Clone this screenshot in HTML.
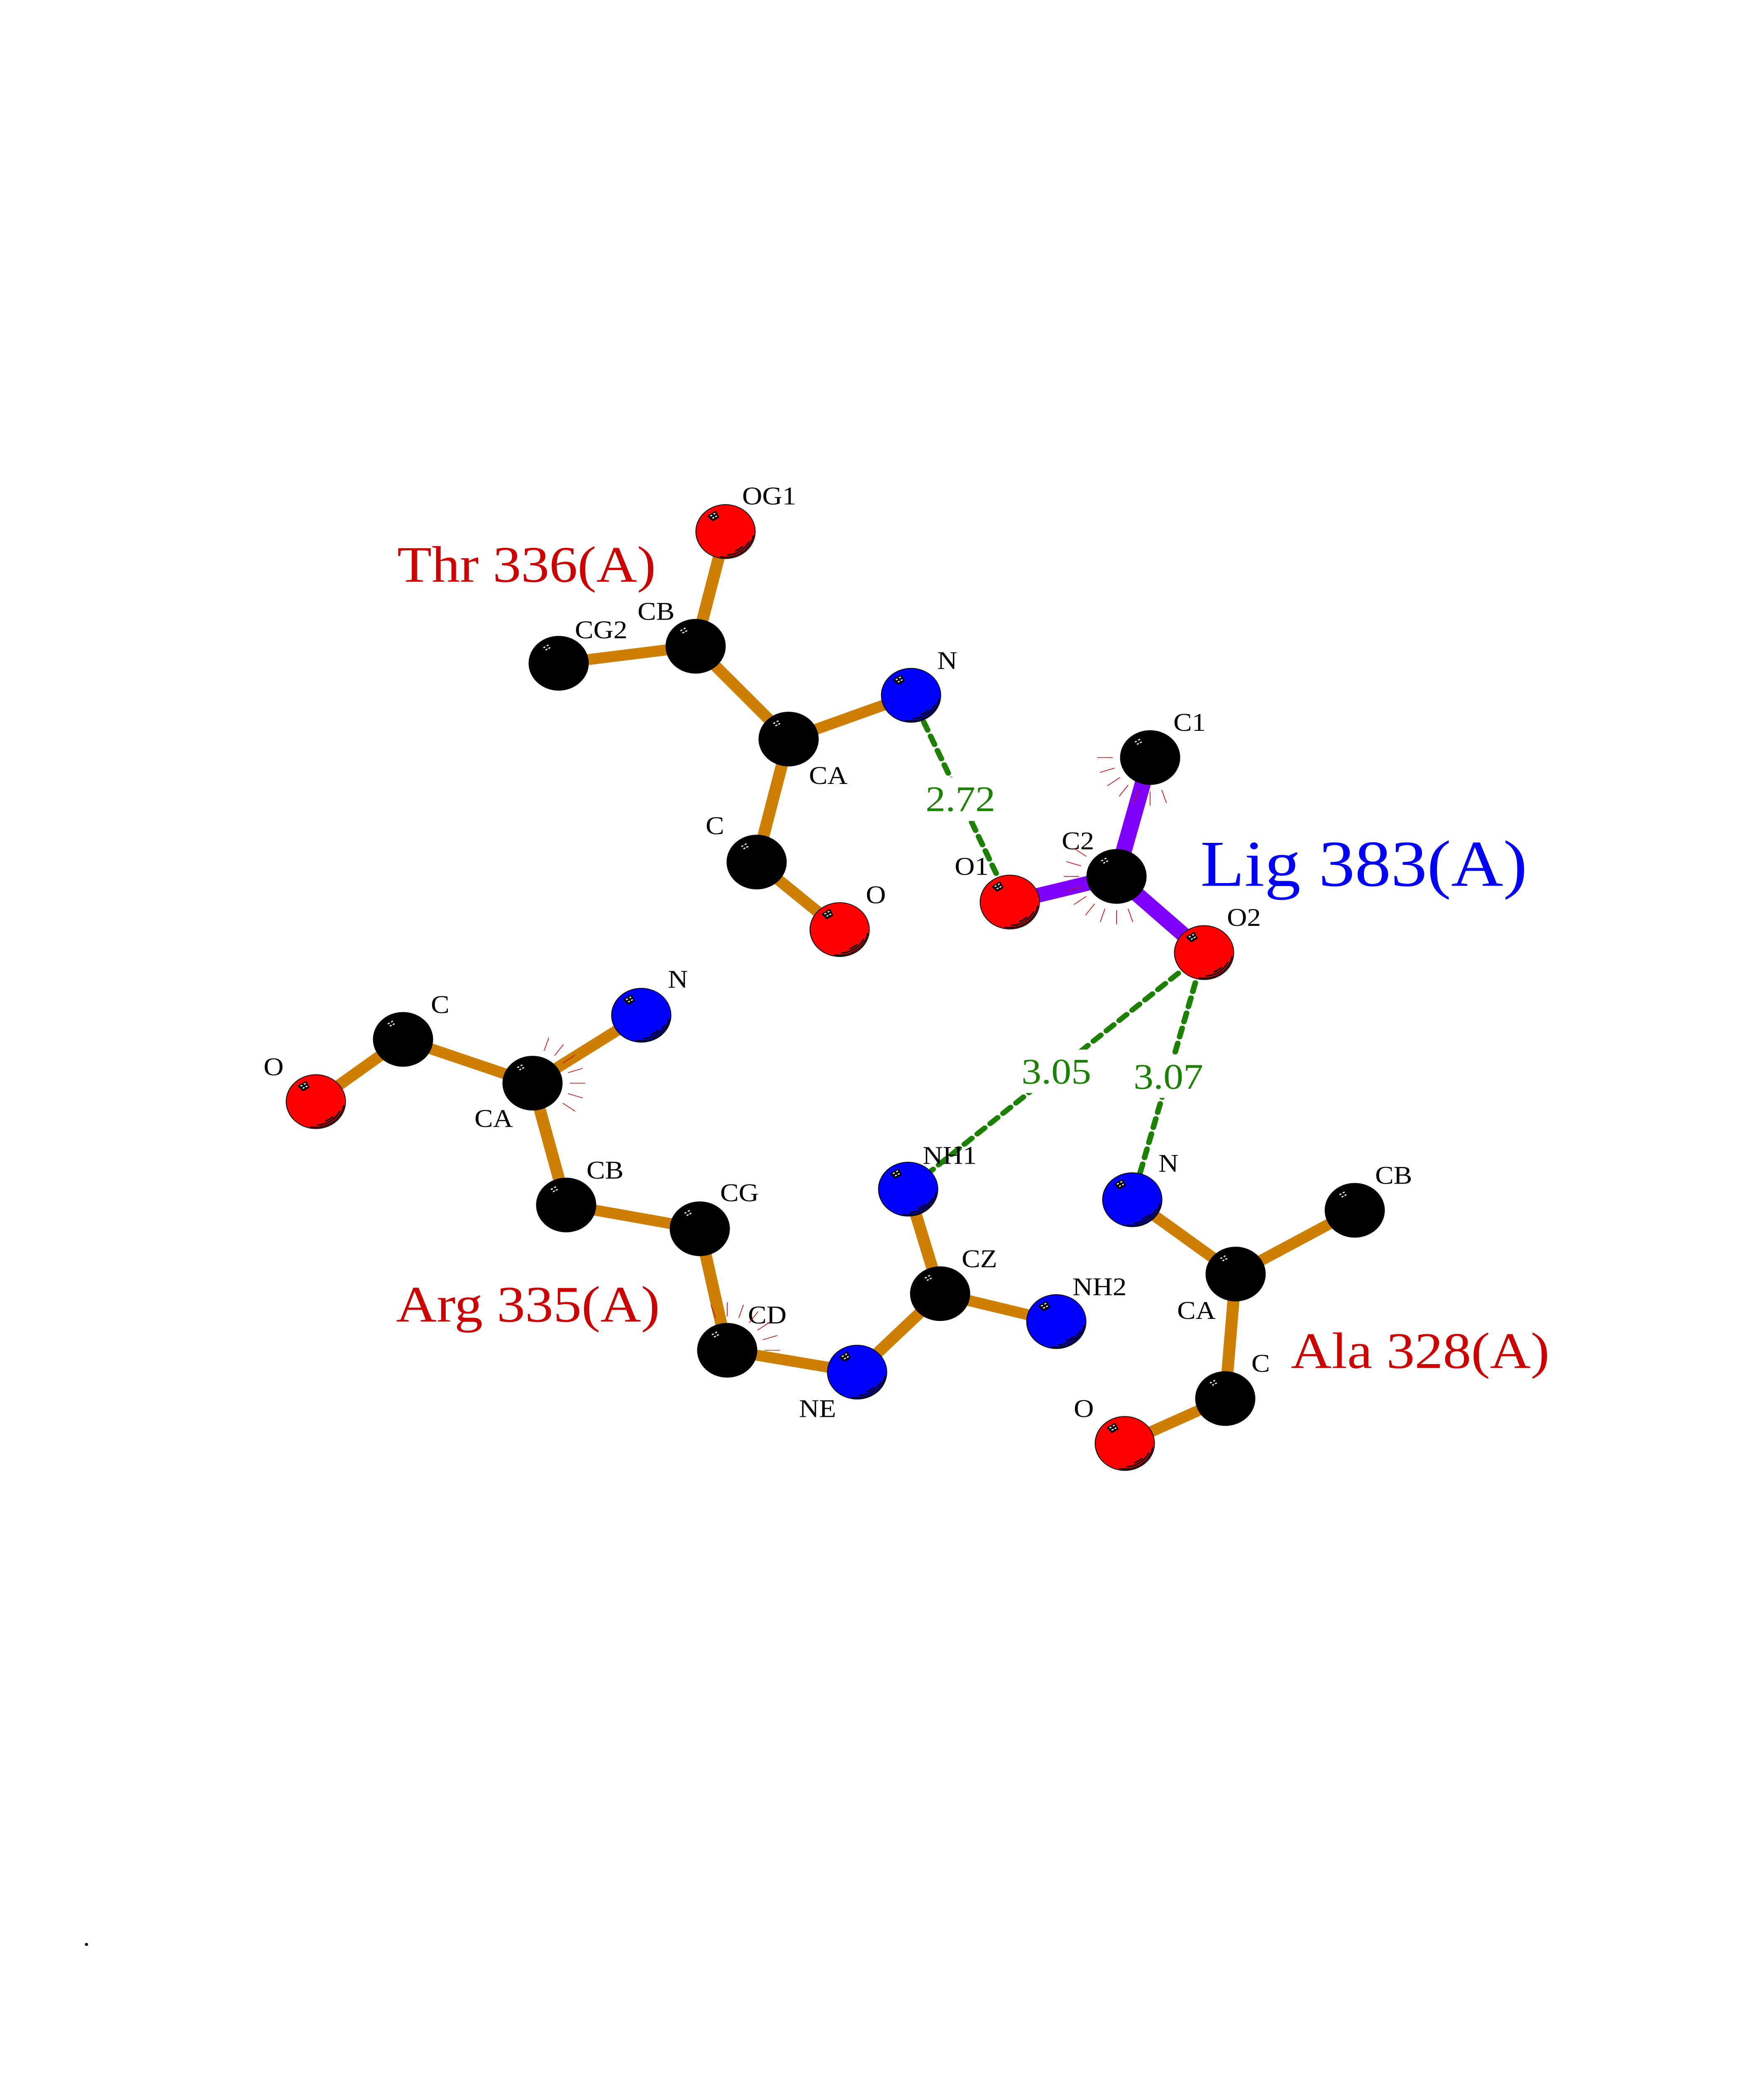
<!DOCTYPE html>
<html>
<head>
<meta charset="utf-8">
<style>
html,body{margin:0;padding:0;background:#fff;width:100%;height:100%;overflow:hidden}
svg{display:block;position:fixed;left:0;top:0;width:100vw;height:100vh;overflow:hidden}
text{font-family:"Liberation Serif",serif}
.a{font-size:67px;fill:#000}
.r{font-size:136px;fill:#cc0000}
.d{font-size:96px;fill:#1c8000}
</style>
</head>
<body>
<svg xmlns="http://www.w3.org/2000/svg" viewBox="0 0 4250 5500" preserveAspectRatio="none">
<defs>
<g id="hl">
  <path d="M-42-41L-24-53L-17-38L-31-29Z" fill="#000" stroke="#000" stroke-width="3" stroke-linejoin="round"/>
</g>
<g id="dots" fill="#fff">
  <rect x="-37" y="-43.5" width="5" height="3" transform="rotate(-30 -35 -42)"/>
  <rect x="-29" y="-48.5" width="5" height="3" transform="rotate(-30 -27 -47)"/>
  <rect x="-25" y="-41.5" width="5" height="3" transform="rotate(-30 -23 -40)"/>
  <rect x="-32" y="-37.5" width="5" height="3" transform="rotate(-30 -30 -36)"/>
</g>
<g id="shine" fill="none" stroke="#000" stroke-linecap="round" stroke-width="3.5">
  <path d="M-12 67A68 68 0 0 0 67 11"/>
  <path d="M5 62A63 63 0 0 0 57 26"/>
  <path d="M24 51A56 56 0 0 0 41 40"/>
</g>
<g id="ox"><circle r="71.5" fill="#ff0000" stroke="#000" stroke-width="2"/><use href="#shine"/><use href="#hl"/><use href="#dots"/></g>
<g id="ni"><circle r="71.5" fill="#0000ff" stroke="#000" stroke-width="2"/><use href="#shine"/><use href="#hl"/><use href="#dots"/></g>
<g id="ca"><circle r="72.5" fill="#000"/><use href="#dots"/></g>
<g id="t"><line x1="90" y1="0" x2="127" y2="0" stroke="#cc0000" stroke-width="1.7"/></g>
</defs>

<!-- bonds -->
<g stroke="#cc7f00" stroke-width="29" fill="none">
  <path d="M1748 1409L1676 1713M1346 1758L1676 1713M1676 1713L1900 1959M1900 1959L2195 1843M1900 1959L1823 2285L2023 2464"/>
  <path d="M761 2920L971 2755L1283 2871L1545 2691M1283 2871L1364 3194L1686 3257L1752 3579L2065 3637L2265 3429L2188 3152M2265 3429L2545 3503"/>
  <path d="M2728 3180L2977 3377L3264 3208M2977 3377L2952 3707L2710 3826"/>
</g>
<g stroke="#8000ff" stroke-width="39" fill="none">
  <path d="M2771 2008L2690 2323L2433 2391M2690 2323L2901 2525"/>
</g>

<!-- hydrogen bonds -->
<g stroke="#1c8000" stroke-width="13.5" fill="none" stroke-linecap="round" stroke-dasharray="24 17.4">
  <line x1="2433" y1="2391" x2="2195" y2="1843"/>
  <line x1="2901" y1="2525" x2="2188" y2="3152"/>
  <line x1="2901" y1="2525" x2="2728" y2="3180"/>
</g>
<g fill="#fff">
  <rect x="2222" y="2060" width="180" height="116"/>
  <rect x="2452" y="2782" width="180" height="115"/>
  <rect x="2722" y="2795" width="180" height="115"/>
</g>

<!-- atoms -->
<use href="#ox" x="1748" y="1409"/>
<use href="#ca" x="1676" y="1713"/>
<use href="#ca" x="1346" y="1758"/>
<use href="#ca" x="1900" y="1959"/>
<use href="#ni" x="2195" y="1843"/>
<use href="#ca" x="1823" y="2285"/>
<use href="#ox" x="2023" y="2464"/>
<use href="#ca" x="2771" y="2008"/>
<use href="#ca" x="2690" y="2323"/>
<use href="#ox" x="2433" y="2391"/>
<use href="#ox" x="2901" y="2525"/>
<use href="#ni" x="1545" y="2691"/>
<use href="#ca" x="1283" y="2871"/>
<use href="#ca" x="971" y="2755"/>
<use href="#ox" x="761" y="2920"/>
<use href="#ca" x="1364" y="3194"/>
<use href="#ca" x="1686" y="3257"/>
<use href="#ca" x="1752" y="3579"/>
<use href="#ni" x="2065" y="3637"/>
<use href="#ca" x="2265" y="3429"/>
<use href="#ni" x="2188" y="3152"/>
<use href="#ni" x="2545" y="3503"/>
<use href="#ni" x="2728" y="3180"/>
<use href="#ca" x="2977" y="3377"/>
<use href="#ca" x="3264" y="3208"/>
<use href="#ca" x="2952" y="3707"/>
<use href="#ox" x="2710" y="3826"/>

<!-- atom labels -->
<g class="labels">
<text class="a" x="1788" y="1337">OG1</text>
<text class="a" x="1385" y="1692">CG2</text>
<text class="a" x="1536" y="1643">CB</text>
<text class="a" x="2258" y="1773">N</text>
<text class="a" x="1949" y="2078">CA</text>
<text class="a" x="1700" y="2211">C</text>
<text class="a" x="2086" y="2394">O</text>
<text class="a" x="2827" y="1937">C1</text>
<text class="a" x="2558" y="2251">C2</text>
<text class="a" x="2300" y="2319">O1</text>
<text class="a" x="2956" y="2454">O2</text>
<text class="a" x="1609" y="2618">N</text>
<text class="a" x="1038" y="2685">C</text>
<text class="a" x="635" y="2850">O</text>
<text class="a" x="1143" y="2987">CA</text>
<text class="a" x="1413" y="3124">CB</text>
<text class="a" x="1735" y="3184">CG</text>
<text class="a" x="1802" y="3508">CD</text>
<text class="a" x="1925" y="3756">NE</text>
<text class="a" x="2317" y="3359">CZ</text>
<text class="a" x="2223" y="3085">NH1</text>
<text class="a" x="2584" y="3433">NH2</text>
<text class="a" x="2791" y="3106">N</text>
<text class="a" x="3313" y="3138">CB</text>
<text class="a" x="2836" y="3496">CA</text>
<text class="a" x="3015" y="3636">C</text>
<text class="a" x="2587" y="3756">O</text>
</g>

<!-- residue labels -->
<text class="r" x="957" y="1542">Thr 336(A)</text>
<text class="r" x="954" y="3503">Arg 335(A)</text>
<text class="r" x="3110" y="3626">Ala 328(A)</text>
<text x="2892" y="2348" style="font-size:174px;fill:#0000ff">Lig 383(A)</text>

<!-- distances -->
<text class="d" x="2230" y="2150">2.72</text>
<text class="d" x="2461" y="2872">3.05</text>
<text class="d" x="2731" y="2886">3.07</text>

<text x="200" y="5157" style="font-size:67px;fill:#000">.</text>

<!-- hydrophobic ticks -->
<g transform="translate(1283 2871)">
  <use href="#t" transform="rotate(-72)"/><use href="#t" transform="rotate(-54)"/><use href="#t" transform="rotate(-36)"/><use href="#t" transform="rotate(-18)"/><use href="#t"/><use href="#t" transform="rotate(18)"/><use href="#t" transform="rotate(36)"/>
</g>
<g transform="translate(2771 2008)">
  <use href="#t" transform="rotate(72)"/><use href="#t" transform="rotate(90)"/><use href="#t" transform="rotate(108)"/><use href="#t" transform="rotate(126)"/><use href="#t" transform="rotate(144)"/><use href="#t" transform="rotate(162)"/><use href="#t" transform="rotate(180)"/>
</g>
<g transform="translate(2690 2323)">
  <use href="#t" transform="rotate(72)"/><use href="#t" transform="rotate(90)"/><use href="#t" transform="rotate(108)"/><use href="#t" transform="rotate(126)"/><use href="#t" transform="rotate(144)"/><use href="#t" transform="rotate(162)"/><use href="#t" transform="rotate(180)"/><use href="#t" transform="rotate(198)"/><use href="#t" transform="rotate(216)"/>
</g>
<g transform="translate(1752 3579)">
  <use href="#t"/><use href="#t" transform="rotate(-18)"/><use href="#t" transform="rotate(-36)"/><use href="#t" transform="rotate(-54)"/><use href="#t" transform="rotate(-72)"/><use href="#t" transform="rotate(-90)"/><use href="#t" transform="rotate(-108)"/>
</g>
</svg>
</body>
</html>
